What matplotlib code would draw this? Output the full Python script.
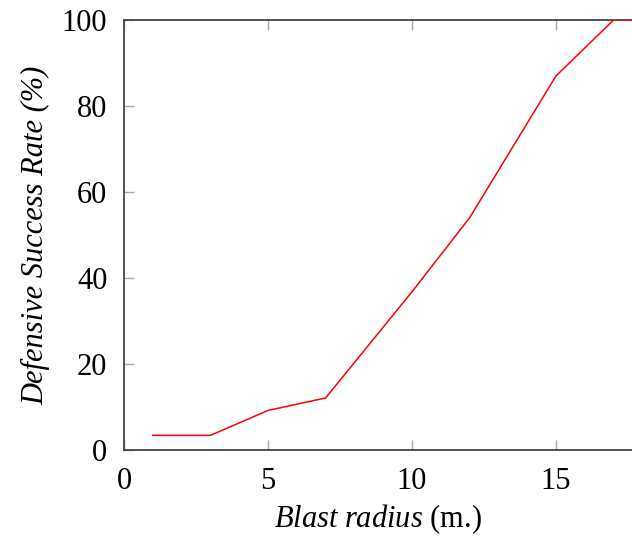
import matplotlib
matplotlib.use("Agg")
import matplotlib.pyplot as plt

blast_radius = [1, 3, 5, 7, 10, 12, 15, 17, 18]
success_rate = [3.4, 3.4, 9.2, 12.1, 36.8, 54.0, 87.0, 100.0, 100.0]
x_ticks = [0, 5, 10, 15]
y_ticks = [0, 20, 40, 60, 80, 100]

plt.rcParams['font.family'] = ['Liberation Serif', 'DejaVu Serif']
plt.rcParams['mathtext.fontset'] = 'custom'
plt.rcParams['mathtext.rm'] = 'Liberation Serif'
plt.rcParams['mathtext.it'] = 'Liberation Serif:italic'

fig = plt.figure(figsize=(6.32, 5.36), dpi=100)
ax = fig.add_axes([124/632, 86/536, 508/632, 430/536])
ax.plot(blast_radius, success_rate, color='red', lw=1.1, zorder=3)
ax.set_xlim(0, 508/28.8)
ax.set_ylim(0, 100)
ax.set_xticks(x_ticks)
ax.set_yticks(y_ticks)
ax.tick_params(direction='in', length=7, width=1.0, color='#aaaaaa',
               labelsize=22, top=True, right=False, pad=12)
for s in ['left', 'bottom', 'top']:
    ax.spines[s].set_color('#444444')
    ax.spines[s].set_linewidth(1.3)
ax.spines['right'].set_visible(False)
ax.set_xlabel(r'$\mathit{Blast\ radius}$ (m.)', fontsize=22, labelpad=5)
ax.set_ylabel('Defensive Success Rate (%)', fontsize=22, fontstyle='italic', labelpad=8)
fig.savefig('out.png', dpi=100)
